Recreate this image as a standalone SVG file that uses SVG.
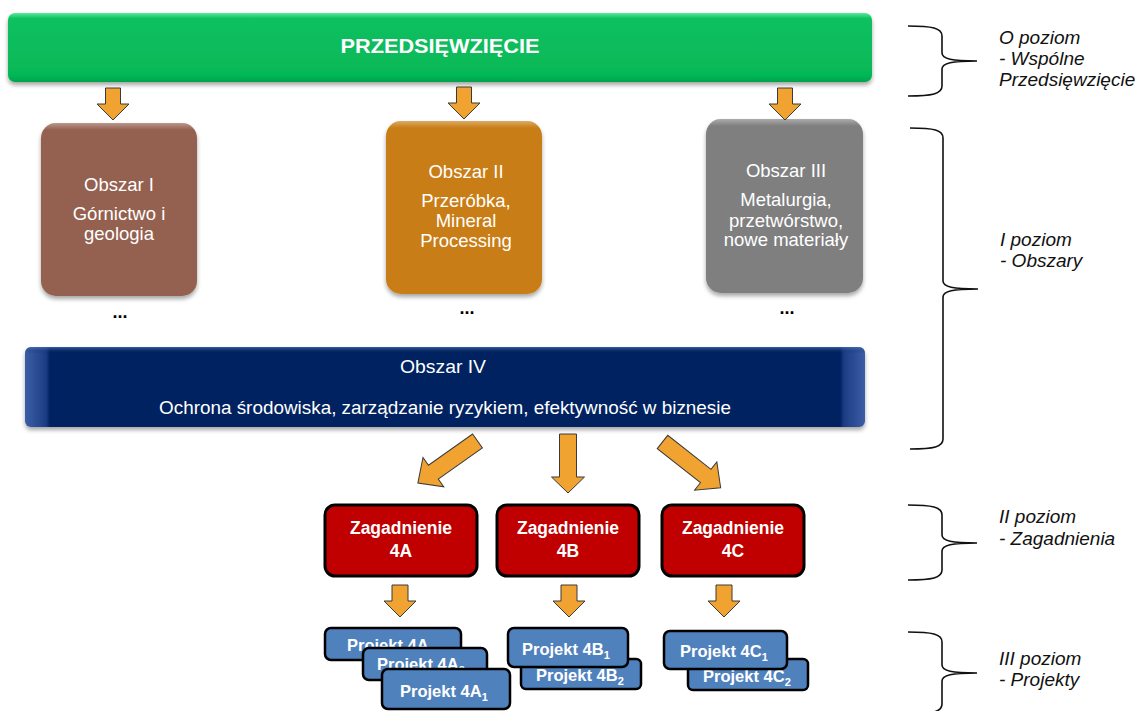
<svg xmlns="http://www.w3.org/2000/svg" width="1137" height="711" viewBox="0 0 1137 711">
<style>
.arrow{fill:#F0A330;stroke:#3A3A3A;stroke-width:1}
.brace{fill:none;stroke:#111;stroke-width:1.6}
.lvl{font-family:"Liberation Sans",Arial,sans-serif;font-style:italic;font-size:19px;fill:#111}
.wt{font-family:"Liberation Sans",Arial,sans-serif;font-size:18.5px;fill:#fff;text-anchor:middle}
.zag{font-family:"Liberation Sans",Arial,sans-serif;font-weight:bold;font-size:17.5px;fill:#fff;text-anchor:middle}
.prj{font-family:"Liberation Sans",Arial,sans-serif;font-weight:bold;font-size:16.5px;fill:#fff}
.sub{font-size:11px}
.zbox{fill:#C00000;stroke:#000;stroke-width:3}
.pbox{fill:#4F81BD;stroke:#000;stroke-width:2.5}
.dots{font-family:"Liberation Sans",Arial,sans-serif;font-size:18px;font-weight:bold;fill:#000;text-anchor:middle}
</style>
<defs>
<filter id="sh" x="-10%" y="-10%" width="120%" height="130%">
<feDropShadow dx="0" dy="3" stdDeviation="2" flood-color="#000" flood-opacity="0.35"/>
</filter>
<linearGradient id="gGreen" x1="0" y1="0" x2="0" y2="1">
<stop offset="0" stop-color="#5BE89E"/>
<stop offset="0.08" stop-color="#0CC060"/>
<stop offset="0.9" stop-color="#06B857"/>
<stop offset="1" stop-color="#05A24D"/>
</linearGradient>
<linearGradient id="gNavy" x1="0" y1="0" x2="1" y2="0">
<stop offset="0" stop-color="#3B5EA6"/>
<stop offset="0.025" stop-color="#1C3D84"/>
<stop offset="0.03" stop-color="#002060"/>
<stop offset="0.97" stop-color="#002060"/>
<stop offset="0.975" stop-color="#1C3D84"/>
<stop offset="1" stop-color="#3B5EA6"/>
</linearGradient>
<linearGradient id="gNavyTop" x1="0" y1="0" x2="0" y2="1">
<stop offset="0" stop-color="#5676B8" stop-opacity="0.7"/>
<stop offset="0.08" stop-color="#002060" stop-opacity="0"/>
<stop offset="1" stop-color="#002060" stop-opacity="0"/>
</linearGradient>
<linearGradient id="gHi" x1="0" y1="0" x2="0" y2="1">
<stop offset="0" stop-color="#fff" stop-opacity="0.35"/>
<stop offset="0.04" stop-color="#fff" stop-opacity="0"/>
<stop offset="1" stop-color="#fff" stop-opacity="0"/>
</linearGradient>
</defs>

<g id="przedsiewziecie">
<rect x="8" y="13" width="864" height="69" rx="7" fill="url(#gGreen)" filter="url(#sh)"/>
<text x="440" y="53" font-family="Liberation Sans,Arial,sans-serif" font-weight="bold" font-size="21" fill="#fff" text-anchor="middle" textLength="199" lengthAdjust="spacingAndGlyphs">PRZEDSIĘWZIĘCIE</text>
</g>

<g id="obszar1">
<rect x="41" y="123" width="156" height="173" rx="15" fill="#94614F" filter="url(#sh)"/>
<rect x="41" y="123" width="156" height="173" rx="15" fill="url(#gHi)"/>
<text class="wt" x="119" y="191">Obszar I</text>
<text class="wt" x="119" y="220">Górnictwo i</text>
<text class="wt" x="119" y="240">geologia</text>
<text class="dots" x="120" y="318">...</text>
</g>

<g id="obszar2">
<rect x="386" y="121" width="156" height="173" rx="15" fill="#C97D12" filter="url(#sh)"/>
<rect x="386" y="121" width="156" height="173" rx="15" fill="url(#gHi)"/>
<text class="wt" x="466" y="178">Obszar II</text>
<text class="wt" x="466" y="207">Przeróbka,</text>
<text class="wt" x="466" y="227">Mineral</text>
<text class="wt" x="466" y="247">Processing</text>
<text class="dots" x="467" y="314">...</text>
</g>

<g id="obszar3">
<rect x="706" y="119" width="157" height="174" rx="15" fill="#7F7F7F" filter="url(#sh)"/>
<rect x="706" y="119" width="157" height="174" rx="15" fill="url(#gHi)"/>
<text class="wt" x="786" y="177">Obszar III</text>
<text class="wt" x="786" y="206">Metalurgia,</text>
<text class="wt" x="786" y="227">przetwórstwo,</text>
<text class="wt" x="786" y="246">nowe materiały</text>
<text class="dots" x="787" y="314">...</text>
</g>

<g id="obszar4">
<rect x="25" y="347" width="840" height="80" rx="6" fill="url(#gNavy)" filter="url(#sh)"/>
<rect x="25" y="347" width="840" height="80" rx="6" fill="url(#gNavyTop)"/>
<text class="wt" x="443" y="373" textLength="86" lengthAdjust="spacingAndGlyphs">Obszar IV</text>
<text class="wt" x="445" y="414" textLength="572" lengthAdjust="spacingAndGlyphs">Ochrona środowiska, zarządzanie ryzykiem, efektywność w biznesie</text>
</g>

<g id="zagadnienie4A">
<rect class="zbox" x="325" y="505" width="152" height="71" rx="10"/>
<text class="zag" x="401" y="534">Zagadnienie</text>
<text class="zag" x="401" y="557">4A</text>
</g>
<g id="zagadnienie4B">
<rect class="zbox" x="497" y="505" width="142" height="71" rx="10"/>
<text class="zag" x="568" y="534">Zagadnienie</text>
<text class="zag" x="568" y="557">4B</text>
</g>
<g id="zagadnienie4C">
<rect class="zbox" x="662" y="505" width="142" height="71" rx="10"/>
<text class="zag" x="733" y="534">Zagadnienie</text>
<text class="zag" x="733" y="557">4C</text>
</g>

<g id="projekt4A">
<rect class="pbox" x="325" y="628" width="136" height="32" rx="6"/>
<text class="prj" x="347" y="651">Projekt 4A</text>
</g>
<g id="projekt4A2">
<rect class="pbox" x="363" y="648" width="124" height="32" rx="6"/>
<text class="prj" x="377" y="670">Projekt 4A<tspan class="sub" dy="4">2</tspan></text>
</g>
<g id="projekt4A1">
<rect class="pbox" x="382" y="669" width="128" height="40" rx="6"/>
<text class="prj" x="400" y="697">Projekt 4A<tspan class="sub" dy="4">1</tspan></text>
</g>

<g id="projekt4B2">
<rect class="pbox" x="521" y="659" width="120" height="30" rx="5"/>
<text class="prj" x="536" y="681">Projekt 4B<tspan class="sub" dy="4">2</tspan></text>
</g>
<g id="projekt4B1">
<rect class="pbox" x="508" y="628" width="120" height="39" rx="6"/>
<text class="prj" x="522" y="655">Projekt 4B<tspan class="sub" dy="4">1</tspan></text>
</g>

<g id="projekt4C2">
<rect class="pbox" x="688" y="659" width="120" height="31" rx="5"/>
<text class="prj" x="703" y="682">Projekt 4C<tspan class="sub" dy="4">2</tspan></text>
</g>
<g id="projekt4C1">
<rect class="pbox" x="664" y="631" width="123" height="38" rx="6"/>
<text class="prj" x="680" y="657">Projekt 4C<tspan class="sub" dy="4">1</tspan></text>
</g>

<g id="connectors">
<path class="arrow" d="M105.5,88 H120.5 V104 H129 L113,120 L97,104 H105.5 Z"/>
<path class="arrow" d="M456.5,87 H471.5 V103 H480 L464,119 L448,103 H456.5 Z"/>
<path class="arrow" d="M777.5,88 H792.5 V104 H801 L785,120 L769,104 H777.5 Z"/>
<path class="arrow" d="M-8.5,0 H8.5 V54 H18 L0,73 L-18,54 H-8.5 Z" transform="translate(477.5,441) rotate(54.8)"/>
<path class="arrow" d="M559.5,434 H576.5 V477 H584.5 L568,493 L551.5,477 H559.5 Z"/>
<path class="arrow" d="M-8.5,0 H8.5 V55 H18 L0,74 L-18,55 H-8.5 Z" transform="translate(662.5,442) rotate(-51.8)"/>
<path class="arrow" d="M392,585 H408 V601 H416 L400,617 L384,601 H392 Z"/>
<path class="arrow" d="M561,585 H577 V601 H585 L569,617 L553,601 H561 Z"/>
<path class="arrow" d="M716,585 H732 V601 H740 L724,617 L708,601 H716 Z"/>
</g>

<g id="poziom0">
<path class="brace" d="M908,26 C932,26 942,28 942,36 L942,53 C942,59 952,61 977,61 C952,61 942,63 942,69 L942,86 C942,94 932,96 908,96"/>
<text class="lvl" x="999" y="44">O poziom</text>
<text class="lvl" x="999" y="65">- Wspólne</text>
<text class="lvl" x="999" y="86">Przedsięwzięcie</text>
</g>
<g id="poziom1">
<path class="brace" d="M910,128 C934,128 943,130 943,138 L943,281 C943,287 953,289 978,289 C953,289 943,291 943,297 L943,439 C943,447 934,449 910,449"/>
<text class="lvl" x="1000" y="246">I poziom</text>
<text class="lvl" x="1000" y="267">- Obszary</text>
</g>
<g id="poziom2">
<path class="brace" d="M908,505 C932,505 942,507 942,515 L942,535 C942,541 952,543 977,543 C952,543 942,545 942,551 L942,570 C942,578 932,580 908,580"/>
<text class="lvl" x="999" y="523">II poziom</text>
<text class="lvl" x="999" y="545">- Zagadnienia</text>
</g>
<g id="poziom3">
<path class="brace" d="M908,632 C932,632 942,634 942,642 L942,665 C942,671 952,673 977,673 C952,673 942,675 942,681 L942,704 C942,712 932,714 908,714"/>
<text class="lvl" x="999" y="665">III poziom</text>
<text class="lvl" x="999" y="686">- Projekty</text>
</g>
</svg>
